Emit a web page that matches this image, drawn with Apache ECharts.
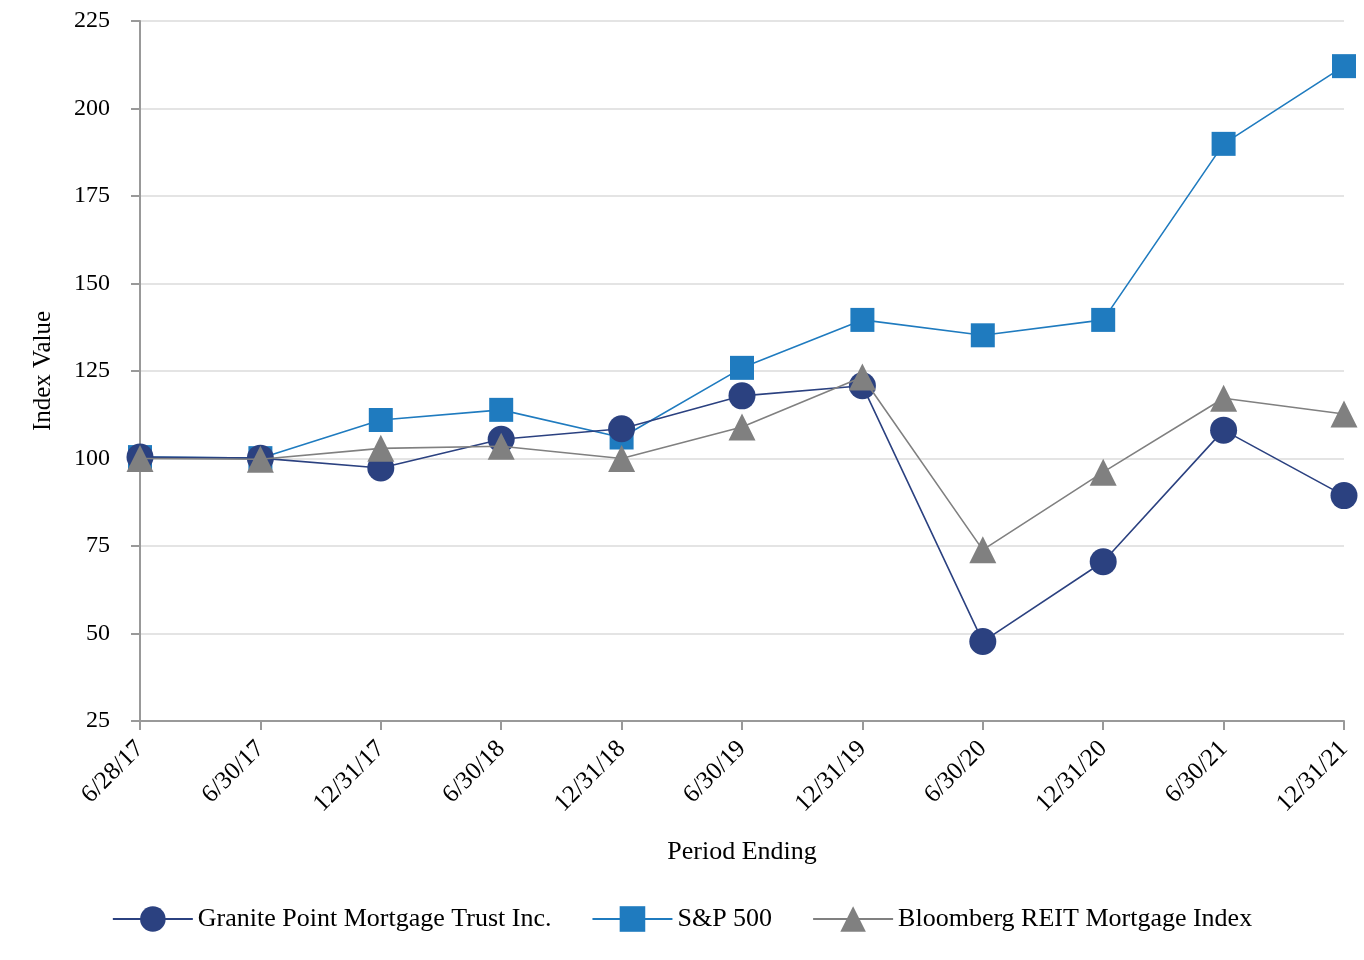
<!DOCTYPE html>
<html>
<head>
<meta charset="utf-8">
<script src="https://cdn.jsdelivr.net/npm/echarts@6/dist/echarts.min.js"></script>
<style>html,body{margin:0;padding:0;background:#fff;}#c{width:1364px;height:960px;}</style>
</head>
<body>
<div id="c"></div>
<script>
const categories = ['6/28/17','6/30/17','12/31/17','6/30/18','12/31/18','6/30/19','12/31/19','6/30/20','12/31/20','6/30/21','12/31/21'];
const granite = [100.4, 100.1, 97.3, 105.5, 108.5, 117.9, 120.8, 47.7, 70.5, 108.1, 89.4];
const sp500 = [100.4, 100.1, 111.0, 113.9, 106.0, 125.9, 139.6, 135.2, 139.6, 189.9, 212.1];
const bloomberg = [100.0, 99.8, 102.9, 103.5, 100.0, 109.0, 123.3, 73.9, 96.1, 117.2, 112.7];
const yTicks = [25, 50, 75, 100, 125, 150, 175, 200, 225];

const font = '"Liberation Serif", "Times New Roman", serif';
const chart = echarts.init(document.getElementById('c'));
chart.setOption({
  animation: false,
  grid: { left: 140, right: 20, top: 21, bottom: 239, containLabel: false },
  legend: {
    bottom: 23,
    left: 'center',
    itemWidth: 80,
    itemHeight: 32,
    itemGap: 40,
    textStyle: { fontFamily: font, fontSize: 26, color: '#000' },
    data: ['Granite Point Mortgage Trust Inc.', 'S&P 500', 'Bloomberg REIT Mortgage Index']
  },
  xAxis: {
    type: 'category',
    data: categories,
    boundaryGap: false,
    name: 'Period Ending',
    nameLocation: 'middle',
    nameGap: 118,
    nameTextStyle: { fontFamily: font, fontSize: 26, color: '#000' },
    axisLine: { lineStyle: { color: '#999', width: 2 } },
    axisTick: { show: true, alignWithLabel: true, length: 9, lineStyle: { color: '#999', width: 2 } },
    axisLabel: { rotate: 45, fontFamily: font, fontSize: 25, color: '#000', margin: 24, interval: 0 },
    splitLine: { show: false }
  },
  yAxis: {
    type: 'value',
    min: 25,
    max: 225,
    interval: 25,
    name: 'Index Value',
    nameLocation: 'middle',
    nameGap: 84,
    nameTextStyle: { fontFamily: font, fontSize: 25, color: '#000' },
    axisLine: { show: true, lineStyle: { color: '#999', width: 2 } },
    axisTick: { show: true, length: 9, lineStyle: { color: '#999', width: 2 } },
    axisLabel: { fontFamily: font, fontSize: 24, color: '#000', margin: 30,
      formatter: v => yTicks.includes(v) ? String(v) : '' },
    splitLine: { show: true, lineStyle: { color: '#e4e4e4', width: 2 } }
  },
  series: [
    {
      name: 'Granite Point Mortgage Trust Inc.', type: 'line', data: granite,
      symbol: 'circle', symbolSize: 27, z: 3,
      itemStyle: { color: '#2b4180' }, lineStyle: { color: '#2b4180', width: 1.6 }
    },
    {
      name: 'S&P 500', type: 'line', data: sp500,
      symbol: 'rect', symbolSize: 24, z: 2,
      itemStyle: { color: '#1f7bbf' }, lineStyle: { color: '#1f7bbf', width: 1.6 }
    },
    {
      name: 'Bloomberg REIT Mortgage Index', type: 'line', data: bloomberg,
      symbol: 'triangle', symbolSize: 27, z: 4,
      itemStyle: { color: '#808080' }, lineStyle: { color: '#808080', width: 1.6 }
    }
  ]
});
</script>
</body>
</html>
